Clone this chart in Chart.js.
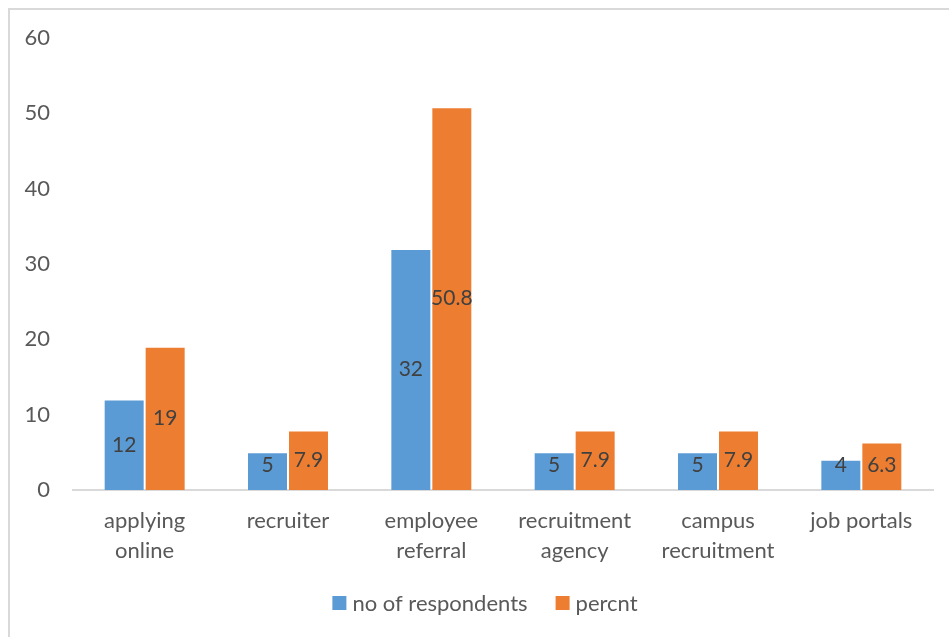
<!DOCTYPE html>
<html>
<head>
<meta charset="utf-8">
<script src="https://cdn.jsdelivr.net/npm/chart.js@4"></script>
<style>
  html, body { margin: 0; padding: 0; background: #ffffff; overflow: hidden; }
  #wrap { position: relative; width: 949px; height: 637px; }
</style>
</head>
<body>
<div id="wrap"><canvas id="c" width="949" height="637"></canvas></div>
<script>
// Ways of getting a job: respondent counts and shares
const categories = [
  ['applying', 'online'],
  ['recruiter'],
  ['employee', 'referral'],
  ['recruitment', 'agency'],
  ['campus', 'recruitment'],
  ['job portals']
];
const respondents = [12, 5, 32, 5, 5, 4];
const percent = [19, 7.9, 50.8, 7.9, 7.9, 6.3];
const seriesNames = ['no of respondents', 'percnt'];
const yTicks = [0, 10, 20, 30, 40, 50, 60];

const BLUE = '#5B9BD5';
const ORANGE = '#ED7D31';
const FONT = 'Lato, "Open Sans", sans-serif';

// Outer frame around the chart
const framePlugin = {
  id: 'frame',
  beforeDraw(chart) {
    const ctx = chart.ctx;
    ctx.save();
    ctx.fillStyle = '#ffffff';
    ctx.fillRect(0, 0, chart.width, chart.height);
    ctx.strokeStyle = '#d9d9d9';
    ctx.lineWidth = 2;
    ctx.strokeRect(9, 9, chart.width + 20, chart.height + 20);
    ctx.restore();
  }
};

// Value labels centred inside each bar
const valueLabels = {
  id: 'valueLabels',
  afterDatasetsDraw(chart) {
    const ctx = chart.ctx;
    ctx.save();
    ctx.font = '21px ' + FONT;
    ctx.fillStyle = '#404040';
    ctx.textAlign = 'center';
    ctx.textBaseline = 'middle';
    chart.data.datasets.forEach((ds, di) => {
      const meta = chart.getDatasetMeta(di);
      meta.data.forEach((bar, i) => {
        const mid = (bar.y + bar.base) / 2;
        const y = Math.min(mid, bar.base - 25);
        ctx.fillText(String(ds.data[i]), bar.x, y);
      });
    });
    ctx.restore();
  }
};

// Legend row under the axis
const legendRow = {
  id: 'legendRow',
  afterDraw(chart) {
    const ctx = chart.ctx;
    ctx.save();
    ctx.font = '22px ' + FONT;
    ctx.textBaseline = 'middle';
    ctx.textAlign = 'left';
    const box = 14, gapText = 6, gapItem = 28;
    const items = chart.data.datasets.map(ds => ({
      label: ds.label, color: ds.backgroundColor,
      w: box + gapText + ctx.measureText(ds.label).width
    }));
    const total = items.reduce((s, it) => s + it.w, 0) + gapItem * (items.length - 1);
    let x = (9 + chart.width) / 2 - total / 2 + 6;
    const y = 604;
    items.forEach(it => {
      ctx.fillStyle = it.color;
      ctx.fillRect(x, y - box / 2 - 1, box, box);
      ctx.fillStyle = '#595959';
      ctx.fillText(it.label, x + box + gapText, y);
      x += it.w + gapItem;
    });
    ctx.restore();
  }
};

new Chart(document.getElementById('c'), {
  type: 'bar',
  data: {
    labels: categories,
    datasets: [
      { label: seriesNames[0], data: respondents, backgroundColor: BLUE,
        borderColor: 'rgba(255,255,255,0.25)', borderWidth: 1,
        categoryPercentage: 0.572, barPercentage: 1 },
      { label: seriesNames[1], data: percent, backgroundColor: ORANGE,
        borderColor: 'rgba(255,255,255,0.25)', borderWidth: 1,
        categoryPercentage: 0.572, barPercentage: 1 }
    ]
  },
  options: {
    responsive: false,
    animation: false,
    events: [],
    layout: { padding: { left: 8, right: 16, top: 38, bottom: 71 } },
    plugins: {
      legend: { display: false },
      tooltip: { enabled: false },
      title: { display: false }
    },
    scales: {
      x: {
        grid: { display: false, drawTicks: false },
        border: { display: true, color: '#d9d9d9', width: 2 },
        ticks: {
          color: '#595959',
          font: { family: FONT, size: 22, lineHeight: 1.36 },
          padding: 16,
          maxRotation: 0,
          autoSkip: false
        },
        afterFit(scale) { scale.height = 76; }
      },
      y: {
        min: 0,
        max: 60,
        grid: { display: false, drawTicks: false },
        border: { display: false },
        afterBuildTicks(scale) { scale.ticks = yTicks.map(v => ({ value: v })); },
        ticks: {
          color: '#595959',
          font: { family: FONT, size: 22 },
          padding: 23
        },
        afterFit(scale) { scale.width = 65; }
      }
    }
  },
  plugins: [framePlugin, valueLabels, legendRow]
});
</script>
</body>
</html>
